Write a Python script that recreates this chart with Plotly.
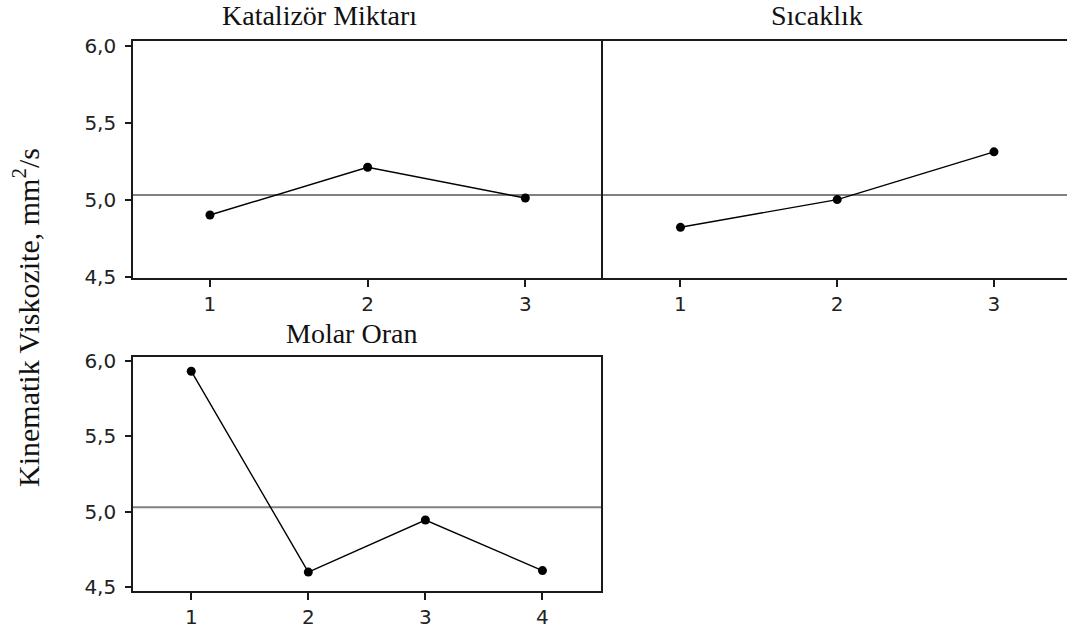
import plotly.graph_objects as go

# Main effects for kinematic viscosity (data means)
katalizor_levels = [1, 2, 3]
katalizor_means = [4.90, 5.21, 5.01]

sicaklik_levels = [1, 2, 3]
sicaklik_means = [4.82, 5.00, 5.31]

molar_levels = [1, 2, 3, 4]
molar_means = [5.93, 4.60, 4.945, 4.61]

grand_mean = 5.03

panel_titles = ["Katalizör Miktarı", "Sıcaklık", "Molar Oran"]
y_title = "Kinematik Viskozite, mm<sup>2</sup>/s"
y_ticks = [4.5, 5.0, 5.5, 6.0]

W, H = 1067, 632


def fx(px):
    return px / W


def fy(py):
    return 1 - py / H


serif = "Liberation Serif"
sans = "DejaVu Sans"
frame_col = "#1a1a1a"
tick_font = dict(family=sans, size=20, color="#222")

fig = go.Figure()

line_style = dict(color="black", width=1.4)
marker_style = dict(color="black", size=9)

fig.add_trace(go.Scatter(x=katalizor_levels, y=katalizor_means, mode="lines+markers",
                         line=line_style, marker=marker_style, xaxis="x", yaxis="y",
                         showlegend=False))
fig.add_trace(go.Scatter(x=sicaklik_levels, y=sicaklik_means, mode="lines+markers",
                         line=line_style, marker=marker_style, xaxis="x2", yaxis="y2",
                         showlegend=False))
fig.add_trace(go.Scatter(x=molar_levels, y=molar_means, mode="lines+markers",
                         line=line_style, marker=marker_style, xaxis="x3", yaxis="y3",
                         showlegend=False))

# Transparent copies bind the label-only value axes to a subplot so they render
fig.add_trace(go.Scatter(x=katalizor_levels, y=katalizor_means, mode="markers",
                         marker=dict(opacity=0), hoverinfo="skip",
                         xaxis="x", yaxis="y4", showlegend=False))
fig.add_trace(go.Scatter(x=molar_levels, y=molar_means, mode="markers",
                         marker=dict(opacity=0), hoverinfo="skip",
                         xaxis="x3", yaxis="y5", showlegend=False))

y_range_top = [4.494, 6.032]
y_range_bot = [4.475, 6.026]

left_px, mid_px = 132.7, 601
label_axis_px = 126.2  # where the label-only axes stand

xcommon = dict(showgrid=False, zeroline=False, showline=True, mirror=True,
               linecolor=frame_col, linewidth=2, ticks="outside", ticklen=7,
               tickwidth=1.5, tickcolor=frame_col, ticklabelstandoff=0,
               tickfont=tick_font, fixedrange=True, automargin=False)
ycommon = dict(showgrid=False, zeroline=False,
               linecolor=frame_col, linewidth=2, fixedrange=True, automargin=False)
# frame and tick marks of a value axis
yframe = dict(ycommon, showline=True, mirror=True, ticks="outside", ticklen=6,
              tickwidth=1.5, tickcolor=frame_col, tickvals=y_ticks,
              showticklabels=False)
# companion axis carrying only the value labels
ylabels = dict(ycommon, showline=False, ticks="outside", ticklen=6,
               tickwidth=1.5, tickcolor="rgba(0,0,0,0)", tickvals=y_ticks,
               tickformat=".1f", ticklabelstandoff=0, tickfont=tick_font,
               anchor="free", position=fx(label_axis_px))

top_dom = [fy(277.5), fy(40.7)]
bot_dom = [fy(591), fy(356.7)]

fig.update_layout(
    template="none",
    width=W, height=H, autosize=False,
    margin=dict(l=0, r=0, t=0, b=0, pad=0),
    paper_bgcolor="white", plot_bgcolor="white",
    separators=", ",
    hovermode=False,
    xaxis=dict(xcommon, domain=[fx(left_px), fx(mid_px)], range=[0.51, 3.48],
               tickvals=katalizor_levels, anchor="y"),
    yaxis=dict(yframe, domain=top_dom, range=y_range_top, anchor="x"),
    xaxis2=dict(xcommon, domain=[fx(mid_px), 1.0], range=[0.493, 3.466],
                tickvals=sicaklik_levels, anchor="y2"),
    # the shared divider is already drawn by the left panel's mirrored axis line
    yaxis2=dict(ycommon, domain=top_dom, range=y_range_top, showline=False,
                showticklabels=False, ticks="", anchor="x2"),
    xaxis3=dict(xcommon, domain=[fx(left_px), fx(mid_px)], range=[0.5, 4.5],
                tickvals=molar_levels, anchor="y3"),
    yaxis3=dict(yframe, domain=bot_dom, range=y_range_bot, anchor="x3"),
    yaxis4=dict(ylabels, domain=top_dom, range=y_range_top, overlaying="y"),
    yaxis5=dict(ylabels, domain=bot_dom, range=y_range_bot, overlaying="y3"),
)

# Grand mean reference line in every panel
for xa, ya in [("x", "y"), ("x2", "y2"), ("x3", "y3")]:
    fig.add_shape(type="line", xref=f"{xa} domain", yref=ya, x0=0, x1=1,
                  y0=grand_mean, y1=grand_mean, layer="below",
                  line=dict(color="#808080", width=2))

# Panel titles
title_font = dict(family=serif, size=28, color="#111")
fig.add_annotation(text=panel_titles[0], xref="paper", yref="paper",
                   x=fx(319), y=fy(15), xanchor="center", yanchor="middle",
                   showarrow=False, font=title_font)
fig.add_annotation(text=panel_titles[1], xref="paper", yref="paper",
                   x=fx(816.7), y=fy(15), xanchor="center", yanchor="middle",
                   showarrow=False, font=title_font)
fig.add_annotation(text=panel_titles[2], xref="paper", yref="paper",
                   x=fx(351.7), y=fy(333), xanchor="center", yanchor="middle",
                   showarrow=False, font=title_font)

# Shared y-axis title
fig.add_annotation(text=y_title, xref="paper", yref="paper",
                   x=fx(26), y=fy(318), xanchor="center", yanchor="middle",
                   textangle=-90, showarrow=False,
                   font=dict(family=serif, size=30, color="#111"))

fig.write_html("out.html")
